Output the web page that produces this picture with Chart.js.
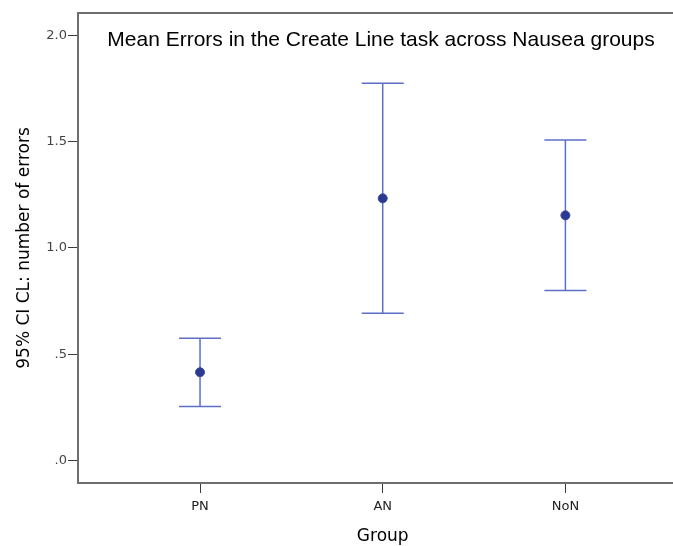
<!DOCTYPE html>
<html>
<head>
<meta charset="utf-8">
<script src="https://cdn.jsdelivr.net/npm/chart.js@4/dist/chart.umd.min.js"></script>
<style>
  html, body { margin: 0; padding: 0; background: #ffffff; }
  #wrap { width: 673px; height: 546px; position: relative; }
</style>
</head>
<body>
<div id="wrap"><canvas id="c"></canvas></div>
<script>
// Group means with their 95% confidence limits
const categories = ['PN', 'AN', 'NoN'];
const means      = [0.415, 1.233, 1.153];
const ciLower    = [0.254, 0.692, 0.799];
const ciUpper    = [0.575, 1.775, 1.508];
const yTicks     = [0, 0.5, 1.0, 1.5, 2.0];

const chartTitle = 'Mean Errors in the Create Line task across Nausea groups';
const xTitle = 'Group';
const yTitle = '95% CI CL: number of errors';

const FRAME = '#6e6e6e';
const TICK = '#3a3a3a';
const BAR = '#5d6fc6';
const DOT = '#2b3990';

// Vertical CI whiskers with caps, plus the frame and in-plot title
const errorBars = {
  id: 'errorBars',
  beforeDatasetsDraw(chart) {
    const { ctx, scales: { x, y } } = chart;
    ctx.save();
    ctx.strokeStyle = BAR;
    ctx.lineWidth = 1.5;
    categories.forEach((c, i) => {
      const px = x.getPixelForValue(i);
      const top = y.getPixelForValue(ciUpper[i]);
      const bot = y.getPixelForValue(ciLower[i]);
      const half = 21;
      ctx.beginPath();
      ctx.moveTo(px, top); ctx.lineTo(px, bot);
      ctx.moveTo(px - half, top); ctx.lineTo(px + half, top);
      ctx.moveTo(px - half, bot); ctx.lineTo(px + half, bot);
      ctx.stroke();
    });
    ctx.restore();
  },
  afterDraw(chart) {
    const { ctx, chartArea: a, scales: { x } } = chart;
    ctx.save();
    // top and right edges of the plot frame
    ctx.strokeStyle = FRAME;
    ctx.lineWidth = 2;
    ctx.beginPath();
    ctx.moveTo(a.left - 1, a.top);
    ctx.lineTo(a.right + 1, a.top);
    ctx.lineTo(a.right + 1, a.bottom);
    ctx.stroke();
    // chart title inside the plot
    ctx.fillStyle = '#000000';
    ctx.font = '21px "Liberation Sans", Arial, sans-serif';
    ctx.textAlign = 'center';
    ctx.textBaseline = 'middle';
    ctx.fillText(chartTitle, 381, 40);
    // x axis title centred under the middle group
    ctx.fillStyle = '#000000';
    ctx.font = '17px "DejaVu Sans", sans-serif';
    ctx.fillText(xTitle, x.getPixelForValue(1), 537);
    ctx.restore();
  }
};

new Chart(document.getElementById('c'), {
  type: 'scatter',
  data: {
    datasets: [{
      data: means.map((m, i) => ({ x: i, y: m })),
      pointRadius: 4.5,
      pointHoverRadius: 4.5,
      pointBackgroundColor: DOT,
      pointBorderColor: '#3b4aa0',
      pointBorderWidth: 1,
      showLine: false
    }]
  },
  options: {
    responsive: true,
    maintainAspectRatio: false,
    animation: false,
    events: [],
    layout: { autoPadding: false, padding: { top: 13, right: 0, bottom: 0, left: 0 } },
    plugins: { legend: { display: false }, tooltip: { enabled: false }, title: { display: false } },
    scales: {
      x: {
        type: 'linear',
        min: -0.668,
        max: 2.589,
        afterBuildTicks(s) { s.ticks = categories.map((c, i) => ({ value: i })); },
        afterFit(s) { s.height = 63; },
        grid: { drawOnChartArea: false, drawTicks: true, tickLength: 10, tickColor: TICK, tickWidth: 1 },
        border: { display: true, color: FRAME, width: 2 },
        ticks: {
          padding: 6,
          color: '#222222',
          font: { family: 'DejaVu Sans', size: 13 },
          callback: (v) => categories[v] ?? ''
        }
      },
      y: {
        min: -0.106,
        max: 2.105,
        afterBuildTicks(s) { s.ticks = yTicks.map(v => ({ value: v })); },
        afterFit(s) { s.width = 78; },
        grid: { drawOnChartArea: false, drawTicks: true, tickLength: 10, tickColor: TICK, tickWidth: 1 },
        border: { display: true, color: FRAME, width: 2 },
        title: {
          display: true,
          text: yTitle,
          color: '#000000',
          font: { family: 'DejaVu Sans', size: 17 },
          padding: { top: 14, bottom: 0 }
        },
        ticks: {
          padding: 1,
          color: '#444444',
          font: { family: 'DejaVu Sans', size: 13 },
          callback: (v) => v.toFixed(1).replace(/^0\./, '.')
        }
      }
    }
  },
  plugins: [errorBars]
});
</script>
</body>
</html>
